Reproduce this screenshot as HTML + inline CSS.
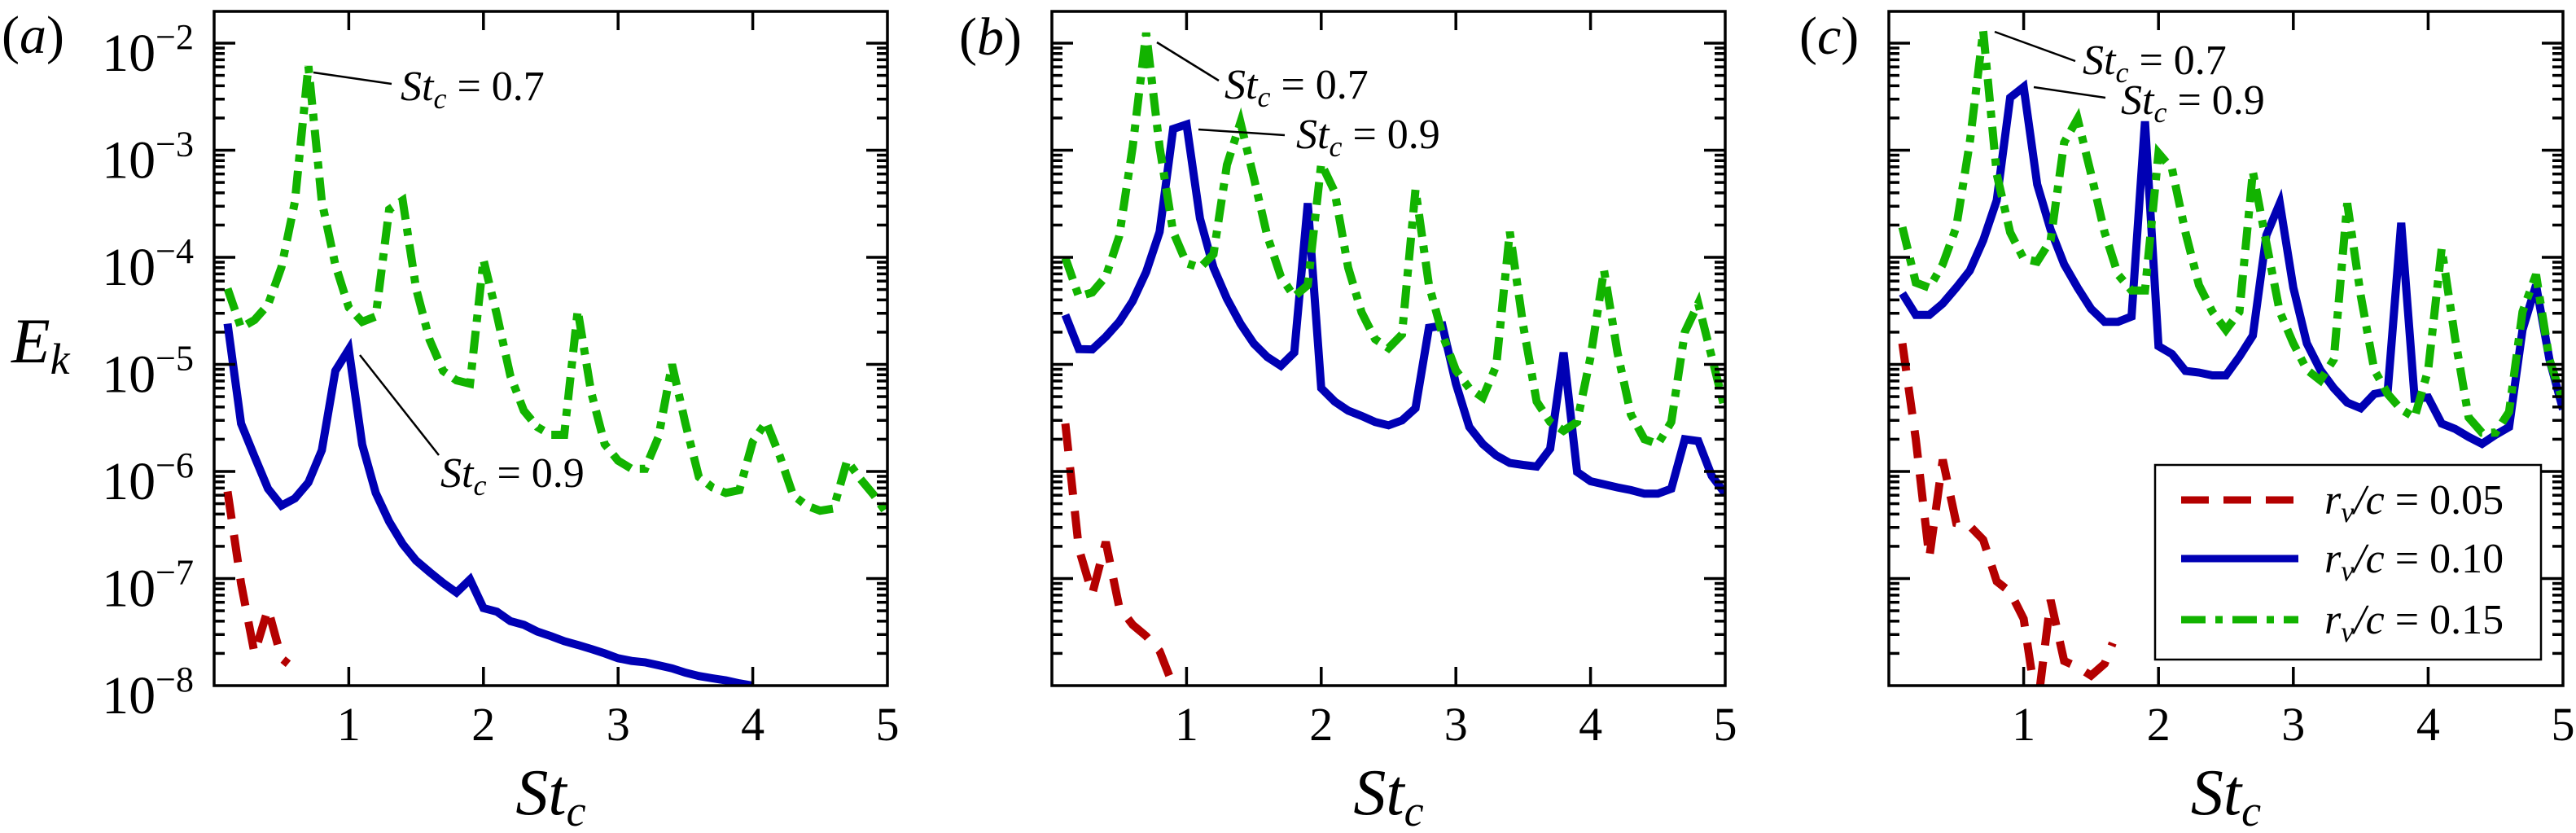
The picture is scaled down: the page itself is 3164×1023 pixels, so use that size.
<!DOCTYPE html>
<html><head><meta charset="utf-8">
<style>
html,body{margin:0;padding:0;background:#fff;}
svg, svg text, svg tspan{font-family:"Liberation Serif","Times New Roman",Times,serif;}
</style></head>
<body>
<svg id="chart" width="3164" height="1018" viewBox="0 0 3164 1018" xmlns="http://www.w3.org/2000/svg" font-family="Liberation Serif, serif">
<defs>
<clipPath id="clip0"><rect x="263" y="14" width="827" height="828"/></clipPath>
<clipPath id="clip1"><rect x="1292" y="14" width="827" height="828"/></clipPath>
<clipPath id="clip2"><rect x="2320" y="14" width="828" height="828"/></clipPath>
</defs>
<g id="root" font-family="Liberation Serif, serif"></g>
</svg>
<script>
// ---- data ----
const stGrid = [0.1,0.2,0.3,0.4,0.5,0.6,0.7,0.8,0.9,1.0,1.1,1.2,1.3,1.4,1.5,1.6,1.7,1.8,1.9,2.0,2.1,2.2,2.3,2.4,2.5,2.6,2.7,2.8,2.9,3.0,3.1,3.2,3.3,3.4,3.5,3.6,3.7,3.8,3.9,4.0,4.1,4.2,4.3,4.4,4.5,4.6,4.7,4.8,4.9,5.0];
const yTickExponents = [-2,-3,-4,-5,-6,-7,-8];
const xTickLabels = [1,2,3,4,5];
const legendLabels = ["0.05","0.10","0.15"];

// panel (a)
const aRedSt = [0.1,0.2,0.3,0.4,0.5,0.55];
const aRed = [6.5e-7,9e-8,2.0e-8,5.2e-8,1.8e-8,1.6e-8];
const aBlue = [2.4e-5,2.8e-6,1.38e-6,6.9e-7,4.8e-7,5.6e-7,7.9e-7,1.58e-6,8.7e-6,1.38e-5,1.78e-6,6.3e-7,3.4e-7,2.1e-7,1.47e-7,1.15e-7,9.1e-8,7.4e-8,9.8e-8,5.3e-8,4.9e-8,4.0e-8,3.7e-8,3.2e-8,2.9e-8,2.6e-8,2.4e-8,2.2e-8,2.0e-8,1.8e-8,1.7e-8,1.65e-8,1.55e-8,1.45e-8,1.32e-8,1.23e-8,1.17e-8,1.12e-8,1.05e-8,1.0e-8];
const aGreen = [5.1e-5,2.2e-5,2.6e-5,3.6e-5,8.1e-5,3.3e-4,6.1e-3,3.3e-4,8.5e-5,3.4e-5,2.5e-5,2.8e-5,2.8e-4,3.4e-4,5.1e-5,1.7e-5,8.7e-6,7.1e-6,6.6e-6,9.5e-5,2.9e-5,7.8e-6,3.7e-6,2.6e-6,2.2e-6,2.2e-6,3.2e-5,5.5e-6,1.8e-6,1.26e-6,1.06e-6,1.06e-6,2.1e-6,1.0e-5,2.8e-6,8.9e-7,7.1e-7,6.3e-7,6.7e-7,1.9e-6,2.9e-6,1.4e-6,6.0e-7,4.8e-7,4.3e-7,4.5e-7,1.26e-6,8.5e-7,6.0e-7,4.0e-7];

// panel (b)
const bRedSt = [0.1,0.2,0.3,0.4,0.5,0.6,0.7,0.8,0.9];
const bRed = [2.8e-6,1.9e-7,7.2e-8,2.2e-7,5.4e-8,3.7e-8,2.9e-8,2.1e-8,1.0e-8];
const bBlue = [2.9e-5,1.39e-5,1.38e-5,1.81e-5,2.5e-5,3.9e-5,7.3e-5,1.73e-4,1.58e-3,1.74e-3,2.3e-4,8.0e-5,4.1e-5,2.4e-5,1.56e-5,1.17e-5,9.7e-6,1.29e-5,3.2e-4,6.0e-6,4.5e-6,3.7e-6,3.3e-6,2.9e-6,2.7e-6,3.0e-6,3.9e-6,2.2e-5,2.3e-5,6.6e-6,2.6e-6,1.8e-6,1.41e-6,1.20e-6,1.15e-6,1.11e-6,1.63e-6,1.29e-5,9.9e-7,8.1e-7,7.6e-7,7.1e-7,6.7e-7,6.2e-7,6.2e-7,6.9e-7,2.0e-6,1.92e-6,9.1e-7,6.2e-7];
const bGreen = [9.9e-5,4.3e-5,4.7e-5,6.6e-5,1.58e-4,1.07e-3,1.25e-2,1.07e-3,1.73e-4,8.8e-5,8.0e-5,1.07e-4,7.3e-4,1.82e-3,5.5e-4,1.58e-4,6.6e-5,4.3e-5,5.5e-5,7.5e-4,4.1e-4,8.0e-5,3.06e-5,1.72e-5,1.42e-5,1.9e-5,4.3e-4,5.5e-5,1.9e-5,8.8e-6,6.0e-6,4.9e-6,9.7e-6,1.73e-4,2.3e-5,4.5e-6,2.9e-6,2.4e-6,2.9e-6,1.17e-5,7.6e-5,1.29e-5,3.4e-6,2.0e-6,1.8e-6,2.9e-6,2.0e-5,3.7e-5,1.17e-5,3.7e-6];

// panel (c)
const cRedSt = [0.1,0.2,0.3,0.4,0.5,0.6,0.7,0.8,0.9,1.0,1.1,1.2,1.3,1.4,1.5,1.6,1.66];
const cRed = [1.57e-5,2.0e-6,1.57e-7,1.29e-6,3.3e-7,3.1e-7,2.3e-7,9.4e-8,7.5e-8,4.2e-8,6e-9,6.3e-8,1.7e-8,1.49e-8,1.24e-8,1.6e-8,2.5e-8];
const cBlue = [4.6e-5,2.9e-5,2.9e-5,3.7e-5,5.2e-5,7.5e-5,1.44e-4,3.4e-4,3.1e-3,3.9e-3,4.8e-4,1.81e-4,8.6e-5,5.2e-5,3.3e-5,2.5e-5,2.5e-5,2.8e-5,1.86e-3,1.48e-5,1.25e-5,8.7e-6,8.4e-6,7.9e-6,7.9e-6,1.18e-5,1.86e-5,1.61e-4,3.2e-4,5.2e-5,1.57e-5,8.9e-6,6.0e-6,4.4e-6,3.9e-6,5.3e-6,5.6e-6,2.1e-4,4.8e-6,4.9e-6,2.8e-6,2.5e-6,2.1e-6,1.81e-6,2.2e-6,2.6e-6,2.1e-5,5.5e-5,1.11e-5,3.8e-6];
const cGreen = [1.91e-4,5.8e-5,5.2e-5,8.6e-5,1.91e-4,1.18e-3,1.3e-2,6.0e-4,1.71e-4,9.7e-5,9.1e-5,1.44e-4,1.18e-3,1.97e-3,6.0e-4,1.71e-4,6.9e-5,4.9e-5,4.9e-5,9.4e-4,6.7e-4,1.71e-4,5.5e-5,3.1e-5,2.1e-5,3.1e-5,6.3e-4,1.36e-4,3.1e-5,1.57e-5,8.9e-6,7.1e-6,1.11e-5,3.2e-4,4.4e-5,8.9e-6,5.3e-6,3.8e-6,3.2e-6,8.9e-6,1.21e-4,1.75e-5,3.2e-6,2.3e-6,2.3e-6,3.6e-6,3.1e-5,6.9e-5,1.11e-5,4.5e-6];

// ---- layout ----
const NS = "http://www.w3.org/2000/svg";
const root = document.getElementById('root');
const panels = [
  {x0:263, x1:1090, label:"a", clip:"clip0", red:[aRedSt,aRed], blue:[stGrid.slice(0,aBlue.length),aBlue], green:[stGrid,aGreen]},
  {x0:1292, x1:2119, label:"b", clip:"clip1", red:[bRedSt,bRed], blue:[stGrid,bBlue], green:[stGrid,bGreen]},
  {x0:2320, x1:3148, label:"c", clip:"clip2", red:[cRedSt,cRed], blue:[stGrid,cBlue], green:[stGrid,cGreen]}
];
const Y_TOP = 14, Y_BOT = 842;
const Y_DEC2 = 53, DEC = 131.5;
function yScale(v){ return Y_DEC2 + (-2 - Math.log10(v)) * DEC; }
function xScaleFor(p){ return s => p.x0 + s/5*(p.x1-p.x0); }
function mk(tag, attrs, parent){ const e=document.createElementNS(NS,tag); for(const k in attrs) e.setAttribute(k,attrs[k]); if(tag==='text') e.setAttribute('font-family','Liberation Serif, Times New Roman, serif'); (parent||root).appendChild(e); return e; }

const colors = {red:"#b40000", blue:"#0000b4", green:"#12b300"};
const dashes = {red:"34 20", blue:"none", green:"28 11 9 11"};

panels.forEach((p, pi) => {
  const xs = xScaleFor(p);
  const g = mk('g', {});
  
  

  ['red','blue','green'].forEach(key => {
    const [sx, sy] = p[key];
    let d = '';
    for (let i=0;i<sy.length;i++){ d += (i?'L':'M') + xs(sx[i]).toFixed(1) + ',' + yScale(sy[i]).toFixed(1); }
    const path = mk('path', {d:d, fill:'none', stroke:colors[key], 'stroke-width':10, 'stroke-linejoin':'miter', 'clip-path':'url(#'+p.clip+')'}, g);
    if (dashes[key] !== 'none') path.setAttribute('stroke-dasharray', dashes[key]);
    
    
  });

  const tg = mk('g', {stroke:'#000', 'stroke-width':3.5}, g);
  
  
  for (let e=-8; e<=-2; e++){
    for (let m=1; m<=9; m++){
      const y = yScale(m*Math.pow(10,e));
      if (y < Y_TOP+1 || y > Y_BOT-1) continue;
      const len = m===1 ? 26 : 13;
      mk('line', {x1:p.x0, x2:p.x0+len, y1:y, y2:y}, tg);
      mk('line', {x1:p.x1, x2:p.x1-len, y1:y, y2:y}, tg);
    }
  }
  xTickLabels.forEach(t => {
    if (t>=5) return;
    const x = xs(t);
    mk('line', {x1:x, x2:x, y1:Y_BOT, y2:Y_BOT-23}, tg);
    mk('line', {x1:x, x2:x, y1:Y_TOP, y2:Y_TOP+23}, tg);
  });

  const fr = mk('rect', {x:p.x0, y:Y_TOP, width:p.x1-p.x0, height:Y_BOT-Y_TOP, fill:'none', stroke:'#000', 'stroke-width':3.5}, g);
  
  

  xTickLabels.forEach(t => {
    const tx = mk('text', {x:xs(t), y:909, 'font-size':58, 'text-anchor':'middle'}, g);
    tx.textContent = String(t);
    
    
  });
  const xt = mk('text', {x:(p.x0+p.x1)/2, y:1000, 'font-size':80, 'font-style':'italic', 'text-anchor':'middle'}, g);
  xt.innerHTML = 'St<tspan font-size="54" dy="14">c</tspan>';
  
  

  if (pi === 0){
    yTickExponents.forEach(e => {
      const y = yScale(Math.pow(10,e));
      const tx = mk('text', {x:238, y:y+34, 'font-size':66, 'text-anchor':'end'}, g);
      tx.innerHTML = '10<tspan font-size="44" dy="-27">\u2212' + (-e) + '</tspan>';
      
      
    });
  }
});

const yt = mk('text', {x:14, y:445, 'font-size':78, 'font-style':'italic'});
yt.innerHTML = 'E<tspan font-size="54" dy="14">k</tspan>';



[["a",2,65],["b",1178,67],["c",2210,66]].forEach(([l,x,y]) => {
  const t = mk('text', {x:x, y:y, 'font-size':66});
  t.innerHTML = '(<tspan font-style="italic">' + l + '</tspan>)';
  
  
});

const annots = [
  {x1:385,y1:89,x2:481,y2:103,tx:492,ty:123,v:"0.7"},
  {x1:442,y1:436,x2:539,y2:559,tx:541,ty:598,v:"0.9"},
  {x1:1421,y1:52,x2:1497,y2:99,tx:1504,ty:121,v:"0.7"},
  {x1:1472,y1:159,x2:1578,y2:166,tx:1592,ty:182,v:"0.9"},
  {x1:2450,y1:39,x2:2549,y2:75,tx:2558,ty:91,v:"0.7"},
  {x1:2498,y1:107,x2:2586,y2:120,tx:2605,ty:140,v:"0.9"}
];
annots.forEach(a => {
  const ln = mk('line', {x1:a.x1,y1:a.y1,x2:a.x2,y2:a.y2, stroke:'#000','stroke-width':2.5});
  
  
  const t = mk('text', {x:a.tx, y:a.ty, 'font-size':52});
  t.innerHTML = '<tspan font-style="italic">St</tspan><tspan font-style="italic" font-size="36" dy="10">c</tspan><tspan dy="-10"> = ' + a.v + '</tspan>';
  
  
});

const lg = mk('g', {});


mk('rect', {x:2647, y:571, width:474, height:239, fill:'#fff', stroke:'#000', 'stroke-width':2.5}, lg);
const legKeys = ['red','blue','green'];
const legY = [614, 686, 761];
legKeys.forEach((k,i) => {
  const l = mk('line', {x1:2679, x2:2823, y1:legY[i], y2:legY[i], stroke:colors[k], 'stroke-width':9}, lg);
  if (dashes[k] !== 'none') l.setAttribute('stroke-dasharray', k==='red' ? '34 18' : '30 12 9 12');
  
  
  const t = mk('text', {x:2855, y:legY[i]+17, 'font-size':52}, lg);
  t.innerHTML = '<tspan font-style="italic">r</tspan><tspan font-style="italic" font-size="36" dy="10">v</tspan><tspan dy="-10" font-style="italic">/c</tspan> = ' + legendLabels[i];
  
  
});
</script>
</body></html>
